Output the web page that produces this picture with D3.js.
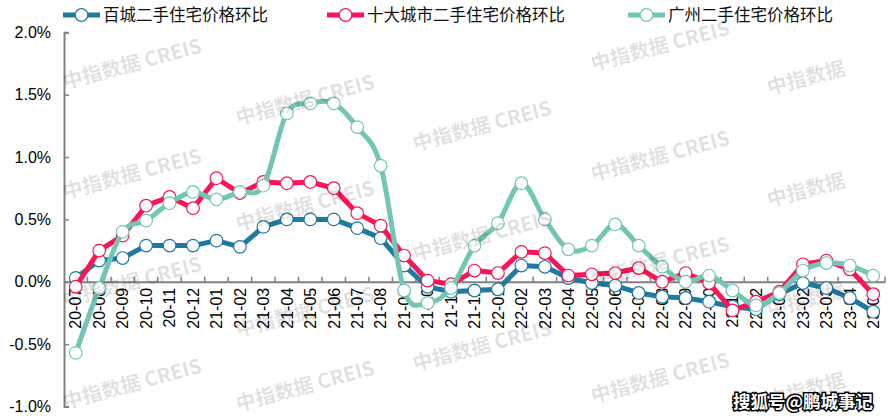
<!DOCTYPE html>
<meta charset="utf-8">
<style>
  body { margin: 0; background: #fff; }
  svg text { font-family: "Liberation Sans", Arial, sans-serif; }
</style>
<script src="https://d3js.org/d3.v7.min.js"></script>
<div id="chart"></div>
<script>

// months on the x axis
var months = ["20-07","20-08","20-09","20-10","20-11","20-12",
  "21-01","21-02","21-03","21-04","21-05","21-06","21-07","21-08","21-09","21-10","21-11","21-12",
  "22-01","22-02","22-03","22-04","22-05","22-06","22-07","22-08","22-09","22-10","22-11","22-12",
  "23-01","23-02","23-03","23-04","23-05"];

// month-on-month change, %
var baicheng = [0.03,0.17,0.19,0.29,0.29,0.29,
  0.33,0.28,0.44,0.50,0.50,0.50,0.43,0.35,0.13,-0.04,-0.08,-0.07,
  -0.06,0.13,0.12,0.03,-0.01,-0.03,-0.09,-0.12,-0.13,-0.16,-0.20,-0.22,
  -0.10,-0.01,-0.05,-0.13,-0.24];
var shida = [-0.04,0.25,0.37,0.61,0.68,0.59,
  0.83,0.71,0.80,0.79,0.80,0.75,0.55,0.45,0.21,0.01,-0.02,0.09,
  0.07,0.24,0.23,0.05,0.06,0.07,0.11,0.00,0.07,-0.01,-0.23,-0.16,
  -0.08,0.14,0.17,0.10,-0.10];
var guangzhou = [-0.57,-0.05,0.40,0.49,0.63,0.72,
  0.66,0.72,0.77,1.35,1.43,1.43,1.24,0.93,-0.07,-0.17,-0.05,0.29,
  0.47,0.79,0.50,0.26,0.29,0.46,0.29,0.12,0.00,0.05,-0.07,-0.19,
  -0.09,0.09,0.15,0.13,0.05];

var seriesNames = ["百城二手住宅价格环比", "十大城市二手住宅价格环比", "广州二手住宅价格环比"];
var yTicks = [-1.0, -0.5, 0, 0.5, 1.0, 1.5, 2.0];

var colors = ["#1f7aa1", "#fb1556", "#73c6b6"];
var series = [baicheng, shida, guangzhou];

var width = 891, height = 420;

var svg = d3.select("#chart")
  .append("svg")
    .attr("width", width)
    .attr("height", height);

// scales
var x = d3.scaleBand()
  .domain(months)
  .range([64, 885]);
var y = d3.scaleLinear()
  .domain([-1, 2])
  .range([406.5, 32.3]);
var cx = function(d) { return x(d) + x.bandwidth() / 2; };

// Y axis (ticks point inward)
var yAxis = svg.append("g")
  .attr("transform", "translate(64,0)")
  .call(d3.axisLeft(y).tickValues(yTicks).tickSize(-5).tickPadding(13)
    .tickFormat(function(d) { return d.toFixed(1) + "%"; }));
yAxis.select(".domain").attr("stroke", "#808080").attr("stroke-width", 2);
yAxis.selectAll(".tick line").attr("stroke", "#808080").attr("stroke-width", 1.5);
yAxis.selectAll("text").attr("font-size", 16).attr("fill", "#000");

// X axis on the zero line, rotated labels
var xAxis = svg.append("g")
  .attr("transform", "translate(0," + y(0) + ")")
  .call(d3.axisBottom(x).tickSize(0));
xAxis.select(".domain").attr("stroke", "#808080").attr("stroke-width", 2);
xAxis.selectAll("text")
  .attr("font-size", 16)
  .attr("fill", "#000")
  .attr("transform", "rotate(-90)")
  .attr("x", -6)
  .attr("y", 0)
  .attr("dy", "0.36em")
  .style("text-anchor", "end");

// boundary ticks between months
xAxis.selectAll(".bound")
  .data(months.slice(1).concat(["end"]))
  .enter()
  .append("line")
    .attr("x1", function(d, i) { return x(months[0]) + (i + 1) * x.bandwidth(); })
    .attr("x2", function(d, i) { return x(months[0]) + (i + 1) * x.bandwidth(); })
    .attr("y1", 0)
    .attr("y2", -5)
    .attr("stroke", "#808080")
    .attr("stroke-width", 1.5);

// lines + markers
series.forEach(function(vals, k) {
  var line = d3.line()
    .x(function(d, i) { return cx(months[i]); })
    .y(function(d) { return y(d); })
    .curve(k === 2 ? d3.curveCatmullRom.alpha(0) : d3.curveLinear);

  var g = svg.append("g");
  g.append("path")
    .datum(vals)
    .attr("d", line)
    .attr("fill", "none")
    .attr("stroke", colors[k])
    .attr("stroke-width", 5)
    .attr("stroke-linejoin", "round");

  g.selectAll("circle")
    .data(vals)
    .enter()
    .append("circle")
      .attr("cx", function(d, i) { return cx(months[i]); })
      .attr("cy", function(d) { return y(d); })
      .attr("r", 6.3)
      .attr("fill", "#fff")
      .attr("stroke", colors[k])
      .attr("stroke-width", 1.2);
});

// legend
var legendX = [63, 327, 628];
var legend = svg.selectAll(".legend")
  .data(seriesNames)
  .enter()
  .append("g")
    .attr("transform", function(d, i) { return "translate(" + legendX[i] + ",15)"; });
legend.append("line")
  .attr("x1", 0).attr("x2", 37)
  .attr("stroke", function(d, i) { return colors[i]; })
  .attr("stroke-width", 5);
legend.append("circle")
  .attr("cx", 18.5).attr("r", 6.3)
  .attr("fill", "#fff")
  .attr("stroke", function(d, i) { return colors[i]; })
  .attr("stroke-width", 1.2);
legend.append("text")
  .attr("x", 40)
  .attr("y", 6)
  .attr("font-size", 16.5)
  .style("font-family", "'Noto Sans CJK SC', sans-serif")
  .attr("fill", "#111")
  .text(function(d) { return d; });

// watermarks
var marks = [
  [132, 64, 1], [132, 174, 1], [132, 282, 1], [132, 384, 1],
  [305, 100, 1], [305, 206, 1], [305, 312, 1], [305, 386, 1],
  [482, 126, 1], [482, 236, 1], [482, 346, 1],
  [660, 46, 1], [660, 156, 1], [660, 262, 1], [660, 378, 1],
  [806, 78, 0], [806, 190, 0], [806, 300, 0], [806, 390, 0]
];
svg.append("g").selectAll("text")
  .data(marks)
  .enter()
  .append("text")
    .attr("transform", function(d) { return "translate(" + d[0] + "," + d[1] + ") rotate(-15)"; })
    .attr("text-anchor", "middle")
    .attr("dy", "0.35em")
    .attr("font-size", 20)
    .attr("font-weight", "bold")
    .style("font-family", "'Noto Sans CJK SC', sans-serif")
    .attr("fill", "#000")
    .attr("fill-opacity", 0.12)
    .text(function(d) { return d[2] ? "中指数据  CREIS" : "中指数据"; });

// source tag
svg.append("text")
  .attr("x", 733)
  .attr("y", 408)
  .attr("font-size", 17.5)
  .attr("font-weight", "bold")
  .style("font-family", "'Noto Sans CJK SC', sans-serif")
  .attr("fill", "#fff")
  .attr("stroke", "#000")
  .attr("stroke-width", 3)
  .attr("paint-order", "stroke")
  .text("搜狐号@鹏城事记");

</script>
